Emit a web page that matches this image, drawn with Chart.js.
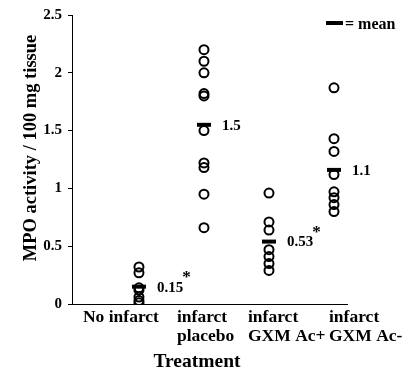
<!DOCTYPE html>
<html>
<head>
<meta charset="utf-8">
<script src="https://cdn.jsdelivr.net/npm/chart.js@4"></script>
<style>
  html, body { margin: 0; padding: 0; background: #fff; }
</style>
</head>
<body>
<canvas id="chart" width="402" height="374"></canvas>
<script>
// groups along the x axis
const groupNames = [['No infarct'], ['infarct', 'placebo'], ['infarct', 'GXM Ac+'], ['infarct', 'GXM Ac-']];

// individual MPO values per group
const noInfarct = [0.32, 0.27, 0.14, 0.12, 0.06, 0.03, 0.01];
const placebo = [2.2, 2.1, 2.0, 1.82, 1.8, 1.5, 1.22, 1.18, 0.95, 0.66];
const gxmAcPlus = [0.96, 0.71, 0.64, 0.47, 0.41, 0.35, 0.29];
const gxmAcMinus = [1.87, 1.43, 1.32, 1.12, 0.97, 0.92, 0.86, 0.80];

// group means and their printed labels
const meanValues = [0.15, 1.55, 0.54, 1.16];
const meanLabels = ['0.15', '1.5', '0.53', '1.1'];
const meanStar = [true, false, true, false];

const yTicks = [0, 0.5, 1, 1.5, 2, 2.5];

const SERIF = '"Liberation Serif", "DejaVu Serif", serif';
const groups = [noInfarct, placebo, gxmAcPlus, gxmAcMinus];

const points = [];
groups.forEach((vals, i) => vals.forEach(v => points.push({ x: i + 1, y: v })));
const means = meanValues.map((v, i) => ({ x: i + 1, y: v }));

// labels, legend and axis titles drawn on top
const annotate = {
  id: 'annotate',
  afterDraw(chart) {
    const { ctx, scales: { x, y }, chartArea } = chart;
    ctx.save();
    ctx.fillStyle = '#000';

    // mean value labels
    ctx.textBaseline = 'middle';
    ctx.textAlign = 'left';
    meanValues.forEach((v, i) => {
      const px = x.getPixelForValue(i + 1) + 18;
      const py = y.getPixelForValue(v);
      ctx.font = 'bold 15px ' + SERIF;
      ctx.fillText(meanLabels[i], px, py + 1);
      if (meanStar[i]) {
        const w = ctx.measureText(meanLabels[i]).width;
        ctx.font = 'bold 17px ' + SERIF;
        ctx.fillText('*', px + w - 1, py - 9);
      }
    });

    // legend
    ctx.lineWidth = 4;
    ctx.beginPath();
    ctx.moveTo(326, 23);
    ctx.lineTo(343, 23);
    ctx.stroke();
    ctx.font = 'bold 16px ' + SERIF;
    ctx.fillText('= mean', 345, 25);

    // category labels
    const offs = [-56, -27, -21, -5];
    ctx.font = 'bold 17.5px ' + SERIF;
    groupNames.forEach((lines, i) => {
      const px = x.getPixelForValue(i + 1) + offs[i];
      lines.forEach((t, j) => ctx.fillText(t, px, chartArea.bottom + 13 + j * 19));
    });

    // x title
    ctx.textAlign = 'center';
    ctx.font = 'bold 19.5px ' + SERIF;
    ctx.fillText('Treatment', 197, chartArea.bottom + 58);

    // y title
    ctx.translate(31, 148);
    ctx.rotate(-Math.PI / 2);
    ctx.font = 'bold 18.5px ' + SERIF;
    ctx.fillText('MPO activity / 100 mg tissue', 0, 0);
    ctx.restore();
  }
};

new Chart(document.getElementById('chart'), {
  type: 'scatter',
  data: {
    datasets: [
      {
        data: points,
        pointStyle: 'circle',
        pointRadius: 4.5,
        pointHoverRadius: 4.5,
        borderColor: '#000',
        backgroundColor: 'rgba(0,0,0,0)',
        borderWidth: 2
      },
      {
        data: means,
        pointStyle: 'line',
        pointRadius: 7,
        pointHoverRadius: 7,
        borderColor: '#000',
        backgroundColor: '#000',
        borderWidth: 4
      }
    ]
  },
  options: {
    responsive: false,
    animation: false,
    devicePixelRatio: 1,
    layout: { padding: { top: 15, right: 55, left: 0, bottom: 0 } },
    plugins: { legend: { display: false }, tooltip: { enabled: false } },
    scales: {
      x: {
        type: 'linear',
        min: -0.03,
        max: 4.2,
        grid: { display: false },
        border: { display: true, color: '#000', width: 1 },
        ticks: { display: false },
        afterFit(scale) { scale.height = 70; }
      },
      y: {
        min: 0,
        max: 2.5,
        afterBuildTicks(scale) { scale.ticks = yTicks.map(v => ({ value: v })); },
        grid: { display: true, drawOnChartArea: false, drawTicks: true, tickLength: 4, color: '#000' },
        border: { display: true, color: '#000', width: 1 },
        ticks: {
          color: '#000',
          padding: 6,
          font: { family: SERIF, size: 15, weight: 'bold' },
          callback: v => String(v)
        },
        afterFit(scale) { scale.width = 72; }
      }
    }
  },
  plugins: [annotate]
});
</script>
</body>
</html>
